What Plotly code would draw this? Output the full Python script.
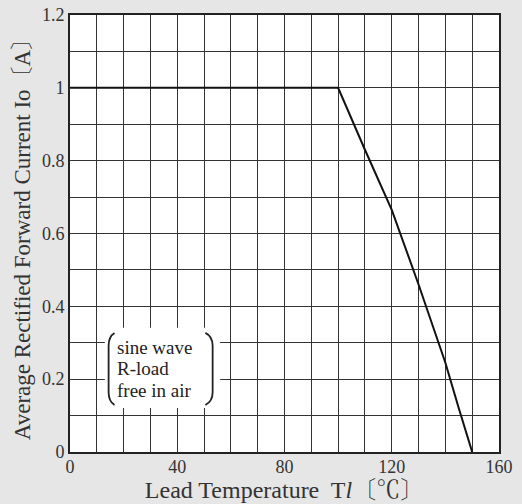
import plotly.graph_objects as go

# ---- data ----
temperature = [0, 100, 110, 120, 130, 135, 140, 145, 150]
current = [1.0, 1.0, 0.83, 0.665, 0.46, 0.355, 0.245, 0.12, 0.0]

x_tick_vals = list(range(0, 161, 10))
x_tick_text = [str(v) if v % 40 == 0 else "" for v in x_tick_vals]
y_tick_vals = [round(i * 0.1, 1) for i in range(13)]
y_tick_text = ["0", "", "0.2", "", "0.4", "", "0.6", "", "0.8", "", "1", "", "1.2"]

note_lines = ["sine wave", "R-load", "free in air"]
note_line_y = [0.288, 0.230, 0.170]

SERIF = "Liberation Serif, Times New Roman, Noto Serif CJK JP, Noto Sans CJK JP, serif"

fig = go.Figure()
fig.add_trace(go.Scatter(
    x=temperature, y=current, mode="lines",
    line=dict(color="#111111", width=2, shape="linear"),
    hoverinfo="skip", showlegend=False,
))

# condition note: white box with brackets
box_x0, box_x1, box_y0, box_y1 = 13, 56, 0.121, 0.341
fig.add_shape(type="rect", xref="x", yref="y", x0=box_x0, x1=box_x1, y0=box_y0, y1=box_y1,
              fillcolor="white", line=dict(width=0), layer="above")
lx0, lx1 = 14.4, 16.6
rx0, rx1 = 50.5, 53.2
yt, yb = 0.327, 0.129
fig.add_shape(type="path", xref="x", yref="y",
              path=f"M {lx1},{yt} Q {lx0},{yt-0.010} {lx0},{yt-0.035} L {lx0},{yb+0.035} Q {lx0},{yb+0.010} {lx1},{yb}",
              line=dict(color="#222222", width=1.8), layer="above")
fig.add_shape(type="path", xref="x", yref="y",
              path=f"M {rx0},{yt} Q {rx1},{yt-0.010} {rx1},{yt-0.035} L {rx1},{yb+0.035} Q {rx1},{yb+0.010} {rx0},{yb}",
              line=dict(color="#222222", width=1.8), layer="above")
for txt, ty in zip(note_lines, note_line_y):
    fig.add_annotation(x=16.8, y=ty, xref="x", yref="y", xanchor="left", yanchor="middle",
                       text=txt, showarrow=False, align="left",
                       font=dict(family=SERIF, size=19, color="#222222"))

fig.update_xaxes(
    range=[0, 160], tickvals=x_tick_vals, ticktext=x_tick_text,
    showgrid=True, gridcolor="#333333", gridwidth=1.3,
    showline=True, linecolor="#222222", linewidth=2, mirror=True,
    ticks="", zeroline=False, ticklabelstandoff=-3,
    tickfont=dict(family=SERIF, size=18, color="#333333"),
    title=dict(text="Lead Temperature  T<i>l</i>〔℃〕", standoff=2,
               font=dict(family=SERIF, size=24, color="#333333")),
)
fig.update_yaxes(
    range=[0, 1.2], tickvals=y_tick_vals, ticktext=y_tick_text,
    showgrid=True, gridcolor="#333333", gridwidth=1.3,
    showline=True, linecolor="#222222", linewidth=2, mirror=True,
    ticks="", zeroline=False,
    tickfont=dict(family=SERIF, size=18, color="#333333"),
    title=dict(text="Average Rectified Forward Current Io〔A〕", standoff=5,
               font=dict(family=SERIF, size=23, color="#333333")),
)
fig.update_layout(
    width=522, height=504,
    margin=dict(l=70, r=23, t=15, b=52, autoexpand=False),
    paper_bgcolor="#e6e6e6", plot_bgcolor="white",
    showlegend=False,
)
fig.write_html("out.html", config={"displayModeBar": False},
               post_script="document.body.style.margin='0';document.body.style.overflow='hidden';")
